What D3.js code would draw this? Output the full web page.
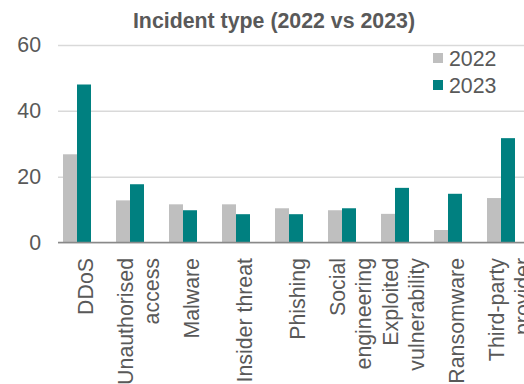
<!DOCTYPE html>
<html>
<head>
<meta charset="utf-8">
<script src="https://cdn.jsdelivr.net/npm/d3@7"></script>
<style>
  body { margin: 0; background: #fff; }
  svg { display: block; font-family: 'Liberation Sans', Arial, sans-serif; }
</style>
</head>
<body>
<svg id="chart"></svg>
<script>
const categories = [
  ['DDoS'],
  ['Unauthorised', 'access'],
  ['Malware'],
  ['Insider threat'],
  ['Phishing'],
  ['Social', 'engineering'],
  ['Exploited', 'vulnerability'],
  ['Ransomware'],
  ['Third-party', 'provider'],
];
const years = ['2022', '2023'];
const values2022 = [26.8, 12.8, 11.6, 11.6, 10.4, 9.8, 8.7, 3.8, 13.5];
const values2023 = [48, 17.7, 9.8, 8.6, 8.6, 10.4, 16.6, 14.8, 31.7];
const yTicks = [0, 20, 40, 60];

const colors = { '2022': '#BFBFBF', '2023': '#008080' };
const textColor = '#595959';
const fontSize = '21.33px';

const draw = () => {
  const width = 524;
  const height = 384;
  const plotLeft = 58;
  const baseY = 242.5;

  const chart = d3.select('#chart')
    .attr('width', width)
    .attr('height', height);

  const names = categories.map(c => c.join(' '));
  const rows = names.map((n, i) => ({ name: n, lines: categories[i], '2022': values2022[i], '2023': values2023[i] }));

  const x0 = d3.scaleBand()
    .domain(names)
    .range([50.5, 527.5]);

  const x1 = d3.scaleBand()
    .domain(years)
    .range([-14, 14]);

  const y = d3.scaleLinear()
    .domain([0, 60])
    .range([baseY, 45]);

  // gridlines + tick labels
  const yAxis = chart.append('g')
    .attr('transform', `translate(${plotLeft}, 0)`)
    .call(d3.axisLeft(y).tickValues(yTicks).tickSize(-(width - plotLeft)).tickPadding(17));
  yAxis.select('.domain').remove();
  yAxis.selectAll('.tick line')
    .attr('stroke', '#D9D9D9')
    .attr('stroke-width', 1.5);
  yAxis.selectAll('.tick text')
    .attr('fill', textColor)
    .style('font-size', fontSize)
    .style('font-family', "'Liberation Sans', Arial, sans-serif");

  // bars
  const group = chart.selectAll('.grp')
    .data(rows)
    .enter().append('g')
      .attr('class', 'grp')
      .attr('transform', d => `translate(${x0(d.name) + x0.bandwidth() / 2}, 0)`);

  group.selectAll('rect')
    .data(d => years.map(k => ({ key: k, value: d[k] })))
    .enter().append('rect')
      .attr('x', d => x1(d.key))
      .attr('width', x1.bandwidth())
      .attr('y', d => y(d.value))
      .attr('height', d => baseY - y(d.value))
      .attr('fill', d => colors[d.key]);

  // x axis line
  chart.append('line')
    .attr('x1', plotLeft)
    .attr('x2', width)
    .attr('y1', baseY)
    .attr('y2', baseY)
    .attr('stroke', '#898989')
    .attr('stroke-width', 1.5);

  // category labels (rotated, multi-line)
  const lineHeight = 26;
  const label = chart.selectAll('.cat')
    .data(rows)
    .enter().append('text')
      .attr('class', 'cat')
      .attr('text-anchor', 'end')
      .attr('fill', textColor)
      .style('font-size', fontSize)
      .attr('transform', d => `translate(${x0(d.name) + x0.bandwidth() / 2 + 9}, 258) rotate(-90)`);

  label.selectAll('tspan')
    .data(d => d.lines.map((l, i) => ({ text: l, off: (i - (d.lines.length - 1) / 2) * lineHeight })))
    .enter().append('tspan')
      .attr('x', 0)
      .attr('y', d => d.off)
      .attr('dominant-baseline', 'central')
      .text(d => d.text);

  // title
  chart.append('text')
    .attr('x', 274)
    .attr('y', 28)
    .attr('text-anchor', 'middle')
    .attr('fill', textColor)
    .style('font-size', fontSize)
    .style('font-weight', 'bold')
    .text('Incident type (2022 vs 2023)');

  // legend
  const legend = chart.selectAll('.legend')
    .data(years)
    .enter().append('g')
      .attr('class', 'legend')
      .attr('transform', (d, i) => `translate(433, ${53 + i * 27})`);

  legend.append('rect')
    .attr('width', 10)
    .attr('height', 10)
    .attr('fill', d => colors[d]);

  legend.append('text')
    .attr('x', 16)
    .attr('y', 6)
    .attr('dominant-baseline', 'central')
    .attr('fill', textColor)
    .style('font-size', fontSize)
    .text(d => d);
};

draw();
</script>
</body>
</html>
